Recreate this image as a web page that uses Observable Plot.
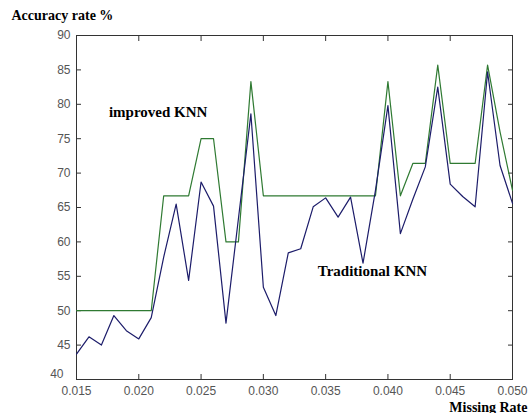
<!DOCTYPE html>
<html>
<head>
<meta charset="utf-8">
<script src="https://cdn.jsdelivr.net/npm/d3@7"></script>
<script src="https://cdn.jsdelivr.net/npm/@observablehq/plot@0.6"></script>
<style>
  html, body { margin: 0; padding: 0; background: #fff; }
  #chart svg { display: block; }
</style>
</head>
<body>
<div id="chart"></div>
<script>
const missingRate = [0.015, 0.016, 0.017, 0.018, 0.019, 0.020, 0.021, 0.022, 0.023, 0.024,
  0.025, 0.026, 0.027, 0.028, 0.029, 0.030, 0.031, 0.032, 0.033, 0.034,
  0.035, 0.036, 0.037, 0.038, 0.039, 0.040, 0.041, 0.042, 0.043, 0.044,
  0.045, 0.046, 0.047, 0.048, 0.049, 0.050];
const traditionalKNN = [43.7, 46.2, 45.0, 49.3, 47.1, 45.9, 49.0, 57.8, 65.5, 54.4,
  68.7, 65.2, 48.2, 63.4, 78.6, 53.4, 49.3, 58.4, 59.0, 65.1,
  66.4, 63.6, 66.5, 56.9, 67.5, 79.8, 61.2, 66.2, 70.9, 82.5,
  68.4, 66.6, 65.1, 84.7, 71.1, 65.6];
const improvedKNN = [50, 50, 50, 50, 50, 50, 50, 66.7, 66.7, 66.7,
  75, 75, 60, 60, 83.3, 66.7, 66.7, 66.7, 66.7, 66.7,
  66.7, 66.7, 66.7, 66.7, 66.7, 83.3, 66.7, 71.4, 71.4, 85.7,
  71.4, 71.4, 71.4, 85.7, 76, 67.5];
const xTicks = [0.015, 0.020, 0.025, 0.030, 0.035, 0.040, 0.045, 0.050];
const yTicks = [40, 45, 50, 55, 60, 65, 70, 75, 80, 85, 90];
const yTitle = "Accuracy rate %";
const xTitle = "Missing Rate";
const labels = [
  {text: "improved KNN", x: 0.0176, y: 78.85},
  {text: "Traditional KNN", x: 0.03437, y: 55.7}
];

const traditional = missingRate.map((x, i) => ({x, y: traditionalKNN[i]}));
const improved = missingRate.map((x, i) => ({x, y: improvedKNN[i]}));

const serif = "'Liberation Serif', 'DejaVu Serif', serif";
const sans = "'Liberation Sans', Arial, sans-serif";
const yMin = yTicks[0];

const chart = Plot.plot({
  width: 529,
  height: 413,
  marginLeft: 76,
  marginRight: 17,
  marginTop: 35,
  marginBottom: 34,
  style: {background: "#fff", color: "#555", fontFamily: sans, fontSize: "12px"},
  x: {domain: [0.015, 0.050]},
  y: {domain: [40, 90]},
  marks: [
    Plot.frame({stroke: "#333", strokeWidth: 1}),
    Plot.axisX(xTicks, {anchor: "bottom", tickSize: -5, tickPadding: 12, tickFormat: d3.format(".3f"), stroke: "#333", fill: "#555", label: null}),
    Plot.axisX(xTicks, {anchor: "top", tickSize: -5, tickFormat: () => "", stroke: "#333", label: null}),
    Plot.axisY(yTicks, {anchor: "left", tickSize: -5, tickPadding: 11, tickFormat: (d) => d === yMin ? "" : String(d), stroke: "#333", fill: "#555", label: null}),
    Plot.axisY(yTicks, {anchor: "right", tickSize: -5, tickFormat: () => "", stroke: "#333", label: null}),
    Plot.text([yMin], {y: (d) => d, text: (d) => String(d), frameAnchor: "left", dx: -13, dy: -5, textAnchor: "end", fill: "#555", fontFamily: sans, fontSize: 12}),
    Plot.line(improved, {x: "x", y: "y", stroke: "#2f7a32", strokeWidth: 1.2}),
    Plot.line(traditional, {x: "x", y: "y", stroke: "#1c1c6a", strokeWidth: 1.2}),
    Plot.text(labels, {x: "x", y: "y", text: "text", textAnchor: "start", fontFamily: serif, fontWeight: "bold", fontSize: 15, fill: "#000"}),
    Plot.text([yTitle], {frameAnchor: "top-left", dx: -65, dy: -25, textAnchor: "start", fontFamily: serif, fontWeight: "bold", fontSize: 14, fill: "#000"}),
    Plot.text([xTitle], {frameAnchor: "bottom-right", dx: 15, dy: 32, textAnchor: "end", fontFamily: serif, fontWeight: "bold", fontSize: 14, fill: "#000"})
  ]
});
document.getElementById("chart").appendChild(chart);
</script>
</body>
</html>
